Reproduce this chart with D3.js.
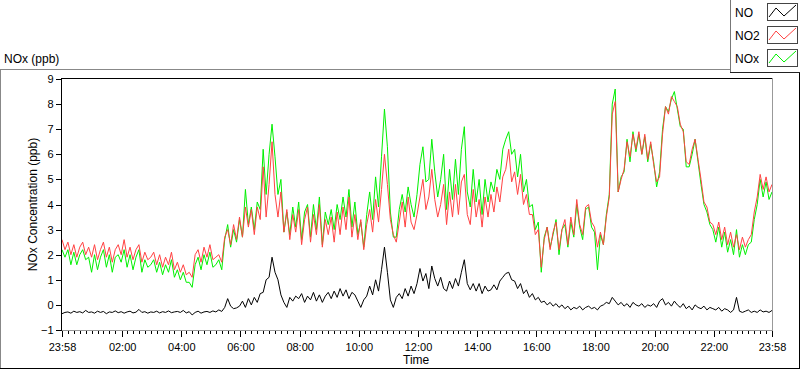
<!DOCTYPE html>
<html>
<head>
<meta charset="utf-8">
<script src="https://cdn.jsdelivr.net/npm/d3@7"></script>
<style>
  body { margin: 0; background: #fff; }
  svg { display: block; font-family: "Liberation Sans", Arial, sans-serif; }
  .tick text { font-size: 11px; fill: #000; }
</style>
</head>
<body>
<svg id="chart" width="800" height="369"></svg>
<script>
// samples every 6 minutes, starting 23:58
var startTime = new Date(2020, 0, 1, 23, 58);
var stepMinutes = 6;

var seriesNames = ["NO", "NO2", "NOx"];
var seriesColors = ["#000000", "#ff4242", "#00f000"];

var noValues = [
  -0.35,-0.3,-0.28,-0.33,-0.25,-0.3,-0.27,-0.32,-0.22,-0.3,
  -0.28,-0.33,-0.25,-0.3,-0.26,-0.35,-0.28,-0.3,-0.24,-0.31,
  -0.27,-0.33,-0.28,-0.25,-0.32,-0.29,-0.18,-0.3,-0.27,-0.33,
  -0.28,-0.3,-0.25,-0.32,-0.27,-0.3,-0.24,-0.31,-0.28,-0.26,
  -0.3,-0.22,-0.32,-0.27,-0.4,-0.3,-0.25,-0.33,-0.28,-0.26,
  -0.3,-0.24,-0.28,-0.2,-0.26,-0.1,0.25,-0.05,-0.15,-0.12,
  -0.05,0.15,-0.1,0.25,0.0,0.3,0.1,0.45,0.5,1.0,
  1.1,1.9,1.3,1.0,0.4,0.1,-0.1,0.3,0.15,0.35,
  0.25,0.45,0.1,0.35,0.2,0.5,0.15,0.4,0.1,0.35,
  0.5,0.25,0.55,0.3,0.65,0.35,0.6,0.25,0.5,0.4,
  0.15,-0.1,0.2,0.35,0.75,0.4,1.0,0.55,1.4,2.3,
  1.3,0.2,-0.1,0.3,0.45,0.25,0.65,0.35,0.75,0.45,
  0.85,1.45,0.95,1.25,0.65,1.55,1.05,0.75,1.1,0.65,
  0.55,0.95,0.65,1.05,0.75,1.3,1.8,0.85,0.6,0.85,
  0.55,0.85,0.45,0.75,0.55,0.6,0.8,0.6,0.95,1.1,
  1.25,1.3,1.0,0.95,0.65,0.85,0.45,0.6,0.3,0.45,
  0.2,0.3,0.1,0.15,0.0,0.1,-0.05,0.05,-0.1,0.0,
  -0.15,-0.05,-0.2,-0.1,-0.15,-0.05,-0.2,-0.1,-0.05,-0.15,
  -0.1,-0.2,-0.05,0.0,0.1,0.05,0.3,0.15,0.0,0.1,
  -0.05,0.05,-0.1,0.1,0.0,-0.05,0.05,-0.1,0.0,-0.05,
  0.05,-0.1,0.15,0.25,0.0,0.1,-0.05,0.15,0.0,-0.1,
  0.05,-0.15,-0.05,-0.2,0.0,-0.1,-0.15,-0.05,-0.2,-0.1,
  -0.15,-0.2,-0.1,-0.25,-0.15,-0.2,-0.3,-0.2,0.3,-0.25,
  -0.3,-0.25,-0.2,-0.3,-0.25,-0.3,-0.2,-0.28,-0.25,-0.3,-0.22
];

var no2Values = [
  2.6,2.2,2.5,2.0,2.4,1.9,2.3,2.5,2.0,2.3,
  1.9,2.4,1.8,2.2,2.5,1.9,2.3,1.7,2.2,2.4,
  2.0,2.6,1.9,2.3,1.8,2.2,2.4,1.7,2.1,1.8,
  1.9,2.1,1.6,2.0,1.5,1.9,1.6,2.1,1.4,1.7,
  1.3,1.6,1.2,1.3,1.1,2.0,2.2,1.7,2.3,1.9,
  2.4,1.8,1.9,2.0,1.7,2.7,3.0,2.4,3.2,2.6,
  3.5,2.7,3.9,3.1,3.8,2.8,3.9,3.4,5.5,3.5,
  4.8,6.5,4.4,3.5,4.5,2.9,3.8,2.6,3.6,2.9,
  3.8,2.4,3.4,3.9,2.5,3.6,2.8,4.0,2.3,3.4,
  2.8,3.5,2.5,3.7,2.8,3.9,3.0,4.3,2.7,3.6,
  2.6,3.4,2.2,3.2,3.8,2.9,4.2,3.3,4.6,6.0,
  4.8,3.4,2.8,2.5,3.3,4.1,3.1,4.3,3.3,3.0,
  3.6,4.3,5.0,3.8,4.3,5.4,4.2,3.5,4.0,4.8,
  3.2,4.5,3.5,4.8,3.6,4.9,5.2,3.6,3.2,4.6,
  3.5,4.2,3.1,4.3,3.5,4.4,3.7,4.7,4.1,5.1,
  5.4,6.2,4.9,5.3,4.4,5.2,4.0,4.4,3.6,3.6,
  2.8,3.0,1.5,2.6,3.1,2.2,2.9,3.3,2.2,3.0,
  3.4,2.4,3.5,2.8,4.2,3.2,2.8,3.9,4.0,3.3,
  3.1,2.3,2.9,2.4,3.5,4.3,7.6,8.1,4.5,5.0,
  5.4,6.5,5.9,6.8,6.2,6.9,6.0,6.8,5.8,6.5,
  5.6,4.9,5.1,6.8,7.9,7.6,8.3,8.1,7.9,7.2,
  6.9,5.7,5.6,6.2,6.6,5.8,5.0,4.1,3.9,3.3,
  3.2,2.8,3.3,2.6,3.1,2.4,2.9,2.3,2.8,2.2,
  2.7,2.3,2.6,2.8,3.7,4.3,5.2,4.6,5.1,4.5,4.8
];

var noxValues = [
  2.2,1.9,2.2,1.6,2.1,1.6,2.0,2.2,1.8,1.9,
  1.3,2.0,1.4,1.9,2.2,1.5,2.0,1.3,1.9,2.0,
  1.7,2.2,1.5,2.0,1.4,1.9,2.2,1.3,1.8,1.5,
  1.6,1.8,1.3,1.7,1.2,1.6,1.3,1.8,1.1,1.4,
  1.0,1.3,0.9,0.9,0.7,1.6,1.9,1.4,2.0,1.6,
  2.1,1.5,1.6,1.8,1.4,2.6,3.2,2.3,3.0,2.5,
  3.4,2.7,4.6,3.2,3.9,3.0,4.1,3.8,6.2,4.4,
  6.0,7.2,5.9,4.4,5.0,2.9,3.7,2.8,3.9,3.1,
  4.1,2.6,3.7,4.0,2.7,4.0,3.0,4.3,2.4,3.7,
  3.2,3.8,3.0,4.0,3.4,4.3,3.5,4.6,3.1,4.1,
  2.8,3.3,2.3,3.6,4.5,3.4,5.1,3.9,5.9,7.8,
  6.3,3.7,2.7,2.7,3.8,4.4,3.7,4.7,4.0,3.5,
  4.4,5.6,6.3,4.9,5.0,6.6,5.3,4.3,5.0,6.0,
  3.8,5.4,4.2,5.8,4.4,6.2,7.1,4.5,3.9,5.4,
  4.1,5.0,3.6,5.0,4.1,4.9,4.5,5.4,5.0,6.2,
  6.6,6.9,6.0,6.2,5.1,6.0,4.5,5.0,3.9,4.0,
  3.0,3.3,1.3,2.7,3.1,2.3,2.8,3.4,2.0,3.0,
  3.2,2.3,3.3,2.7,4.0,3.1,2.6,3.8,3.9,3.1,
  2.9,1.4,2.8,2.4,3.6,4.4,8.0,8.6,4.5,5.1,
  5.3,6.6,5.7,6.9,6.1,6.8,6.0,6.7,5.7,6.4,
  5.7,4.7,5.3,7.0,7.9,7.7,8.2,8.5,7.8,7.1,
  7.0,5.5,5.5,6.0,6.6,5.7,4.8,4.0,3.7,3.2,
  3.0,2.5,3.1,2.3,2.9,2.1,2.6,2.0,3.0,1.9,
  2.4,2.0,2.4,2.5,3.4,4.0,5.0,4.3,4.9,4.2,4.5
];

var yTicks = [-1, 0, 1, 2, 3, 4, 5, 6, 7, 8, 9];
var xTickLabels = ["23:58", "02:00", "04:00", "06:00", "08:00", "10:00", "12:00",
                   "14:00", "16:00", "18:00", "20:00", "22:00", "23:58"];
var minorTickMinutes = 12;

var svg = d3.select("#chart");
var plot = { left: 61, right: 772, top: 79, bottom: 330 };

var endTime = d3.timeMinute.offset(startTime, 1440);
var x = d3.scaleTime().domain([startTime, endTime]).range([plot.left + 1, plot.right]);
var y = d3.scaleLinear().domain([-1, 9]).range([plot.bottom, plot.top]);

function timeAt(i) { return d3.timeMinute.offset(startTime, i * stepMinutes); }

// major tick times from the labels
var majorTimes = xTickLabels.map(function (lab, k) {
    if (k === xTickLabels.length - 1) return endTime;
    var p = lab.split(":");
    var mins = (+p[0] * 60 + +p[1]) - (23 * 60 + 58);
    if (mins < 0) mins += 1440;
    return d3.timeMinute.offset(startTime, mins);
});
var minorTimes = d3.range(0, 1441, minorTickMinutes)
    .map(function (m) { return d3.timeMinute.offset(startTime, m); })
    .filter(function (t) {
        return !majorTimes.some(function (mt) { return Math.abs(mt - t) < 3 * 60000; });
    });

// outer frame
function hline(x1, x2, yy, c) {
    svg.append("line").attr("x1", x1).attr("x2", x2).attr("y1", yy).attr("y2", yy)
        .attr("stroke", c).attr("shape-rendering", "crispEdges");
}
function vline(xx, y1, y2, c) {
    svg.append("line").attr("x1", xx).attr("x2", xx).attr("y1", y1).attr("y2", y2)
        .attr("stroke", c).attr("shape-rendering", "crispEdges");
}
hline(0, 731, 69.5, "#888");
vline(0.5, 69, 369, "#888");
hline(0, 800, 368.5, "#000");
vline(799.5, 72, 369, "#000");

// plot background + frame
svg.append("rect").attr("x", plot.left).attr("y", plot.top)
    .attr("width", plot.right - plot.left).attr("height", plot.bottom - plot.top)
    .attr("fill", "#fff");

svg.append("clipPath").attr("id", "clip").append("rect")
    .attr("x", plot.left + 1).attr("y", plot.top + 1)
    .attr("width", plot.right - plot.left - 1).attr("height", plot.bottom - plot.top - 1);

var lineGen = function (vals) {
    return d3.line()
        .x(function (d, i) { return x(timeAt(i)); })
        .y(function (d) { return y(d); })(vals);
};

var plotData = [noValues, noxValues, no2Values];
var plotColors = [seriesColors[0], seriesColors[2], seriesColors[1]];
svg.append("g").attr("clip-path", "url(#clip)")
    .selectAll("path").data(plotData).enter().append("path")
    .attr("d", function (d) { return lineGen(d); })
    .attr("fill", "none")
    .attr("stroke", function (d, i) { return plotColors[i]; })
    .attr("stroke-width", 1);

hline(plot.left, plot.right + 1, plot.top - 0.5, "#000");
vline(plot.left + 0.5, plot.top - 1, plot.bottom + 1, "#000");
vline(plot.right + 0.5, plot.top - 1, plot.bottom + 1, "#999");
hline(plot.left + 1, plot.right + 1, plot.bottom + 0.5, "#999");

// y axis
var yAxis = svg.append("g").attr("transform", "translate(" + (plot.left + 0.5) + ",0)")
    .call(d3.axisLeft(y).tickValues(yTicks).tickSize(6).tickPadding(2).tickFormat(d3.format("d")));
yAxis.select(".domain").remove();
yAxis.selectAll("line").attr("shape-rendering", "crispEdges");

// x axis: minor then major
var xMinor = svg.append("g").attr("transform", "translate(0," + (plot.bottom + 1) + ")")
    .call(d3.axisBottom(x).tickValues(minorTimes).tickSize(3).tickFormat(""));
xMinor.select(".domain").remove();
var xMajor = svg.append("g").attr("transform", "translate(0," + (plot.bottom + 1) + ")")
    .call(d3.axisBottom(x).tickValues(majorTimes).tickSize(6).tickPadding(6)
        .tickFormat(function (d, i) { return xTickLabels[i]; }));
xMajor.select(".domain").remove();
svg.selectAll(".tick line").attr("shape-rendering", "crispEdges");

// titles
svg.append("text").attr("x", 4).attr("y", 63).attr("font-size", 12).text("NOx (ppb)");
svg.append("text").attr("x", 403).attr("y", 364).attr("font-size", 12).text("Time");
svg.append("text")
    .attr("transform", "translate(37," + ((plot.top + plot.bottom) / 2) + ") rotate(-90)")
    .attr("text-anchor", "middle").attr("font-size", 12)
    .text("NOx Concentration (ppb)");

// legend
var lg = svg.append("g");
lg.append("rect").attr("x", 730.5).attr("y", -1).attr("width", 75).attr("height", 73.5)
    .attr("fill", "#fff").attr("stroke", "none");
vline(730.5, 0, 73, "#777");
hline(730, 800, 72.5, "#222");
var rows = lg.selectAll("g.row").data(seriesNames).enter().append("g")
    .attr("transform", function (d, i) { return "translate(0," + (i * 23) + ")"; });
rows.append("text").attr("x", 735).attr("y", 17).attr("font-size", 12)
    .text(function (d) { return d; });
rows.append("rect").attr("x", 767.5).attr("y", 3.5).attr("width", 30).attr("height", 17)
    .attr("fill", "#fff").attr("stroke", "#444").attr("shape-rendering", "crispEdges");
rows.append("polyline")
    .attr("points", "769,17 776,8 784,16 796,5")
    .attr("fill", "none")
    .attr("stroke", function (d, i) { return seriesColors[i]; });
</script>
</body>
</html>
